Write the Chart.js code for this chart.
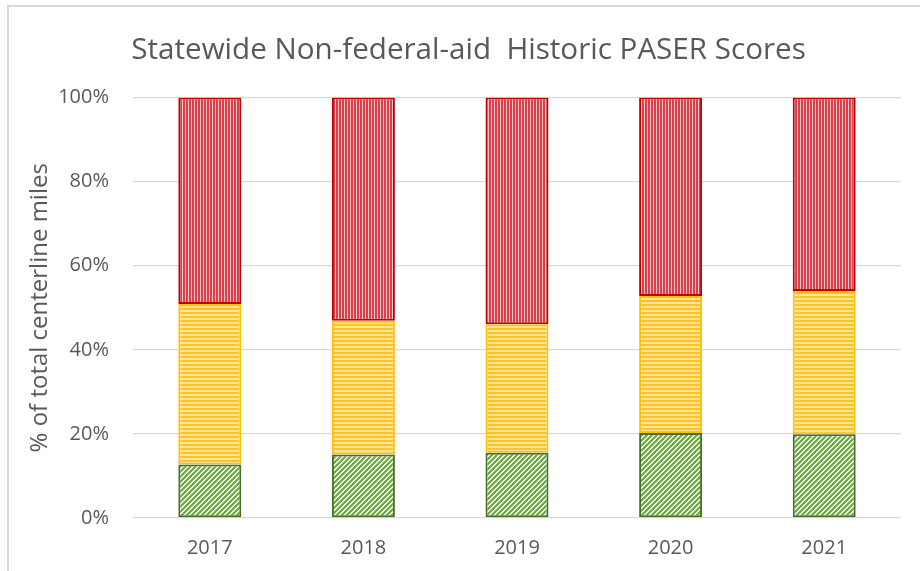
<!DOCTYPE html>
<html>
<head>
<meta charset="utf-8">
<script src="https://cdn.jsdelivr.net/npm/chart.js@4"></script>
<style>
  html, body { margin: 0; padding: 0; background: #fff; }
  #frame { position: absolute; left: 7px; top: 5px; width: 920px; height: 580px;
           border-left: 2px solid #d9d9d9; border-top: 2px solid #d9d9d9; }
  #wrap { position: absolute; left: 0; top: 0; width: 920px; height: 571px; }
</style>
</head>
<body>
<div id="frame"></div>
<div id="wrap"><canvas id="c" width="920" height="571"></canvas></div>
<script>
const titleText = 'Statewide Non-federal-aid  Historic PASER Scores';
const yAxisTitle = '% of total centerline miles';
const years = ['2017', '2018', '2019', '2020', '2021'];
const greenValues  = [12.7, 15.1, 15.5, 20.2, 19.9];
const yellowValues = [38.2, 31.8, 30.6, 32.6, 34.1];
const redValues    = [49.1, 53.1, 53.9, 47.2, 46.0];
const yTicks = [0, 20, 40, 60, 80, 100];

function hex(c) { return [parseInt(c.substr(1,2),16), parseInt(c.substr(3,2),16), parseInt(c.substr(5,2),16)]; }
function makePattern(w, h, fn) {
  const cv = document.createElement('canvas');
  cv.width = w; cv.height = h;
  const cx = cv.getContext('2d');
  const img = cx.createImageData(w, h);
  for (let y = 0; y < h; y++) for (let x = 0; x < w; x++) {
    const col = hex(fn(x, y));
    const i = (y * w + x) * 4;
    img.data[i] = col[0]; img.data[i+1] = col[1]; img.data[i+2] = col[2]; img.data[i+3] = 255;
  }
  cx.putImageData(img, 0, 0);
  return document.getElementById('c').getContext('2d').createPattern(cv, 'repeat');
}
const redPattern = makePattern(3, 1, (x) => x < 2 ? '#d8414b' : '#f4c5c9');
const yellowPattern = makePattern(1, 4, (x, y) => y < 2 ? '#ffc424' : '#ffe59a');
const greenPattern = makePattern(5, 5, (x, y) => ((x + y) % 5) < 3 ? '#72ad4a' : '#eef5e8');

const FONT = "'Open Sans', sans-serif";
const grey = '#595959';

const shiftTitle = {
  id: 'shiftTitle',
  afterLayout(chart) {
    if (chart.titleBlock) { chart.titleBlock.left += 18; }
  }
};

new Chart(document.getElementById('c'), {
  type: 'bar',
  data: {
    labels: years,
    datasets: [
      { label: 'Good', data: greenValues, backgroundColor: greenPattern, borderColor: '#456f2a', borderWidth: 2, borderSkipped: false },
      { label: 'Fair', data: yellowValues, backgroundColor: yellowPattern, borderColor: '#ffc000', borderWidth: 2, borderSkipped: false },
      { label: 'Poor', data: redValues, backgroundColor: redPattern, borderColor: '#c00000', borderWidth: 2, borderSkipped: false }
    ]
  },
  plugins: [shiftTitle],
  options: {
    responsive: false,
    animation: false,
    devicePixelRatio: 1,
    layout: { padding: { left: 18, right: 19, top: 0, bottom: 13 } },
    datasets: { bar: { barPercentage: 0.41, categoryPercentage: 1.0 } },
    plugins: {
      legend: { display: false },
      tooltip: { enabled: false },
      title: {
        display: true,
        text: titleText,
        color: grey,
        font: { family: FONT, size: 29.6, weight: 'normal', lineHeight: 1.2 },
        padding: { top: 32.5, bottom: 29.5 }
      }
    },
    scales: {
      x: {
        stacked: true,
        afterFit: (s) => { s.height = 40; },
        grid: { display: false, drawTicks: false },
        border: { display: false },
        ticks: { color: grey, padding: 18, font: { family: FONT, size: 20 } }
      },
      y: {
        stacked: true,
        min: 0, max: 100,
        afterBuildTicks: (s) => { s.ticks = yTicks.map(v => ({ value: v })); },
        afterFit: (s) => { s.width = 115; },
        grid: { color: '#d9d9d9', lineWidth: 1.3, drawTicks: false },
        border: { display: false },
        ticks: { color: grey, padding: 24, font: { family: FONT, size: 20 }, callback: (v) => v + '%' },
        title: { display: true, text: yAxisTitle, color: grey, padding: { top: 7.6, bottom: 0 },
                 font: { family: FONT, size: 24, weight: 'normal' } }
      }
    }
  }
});
</script>
</body>
</html>
